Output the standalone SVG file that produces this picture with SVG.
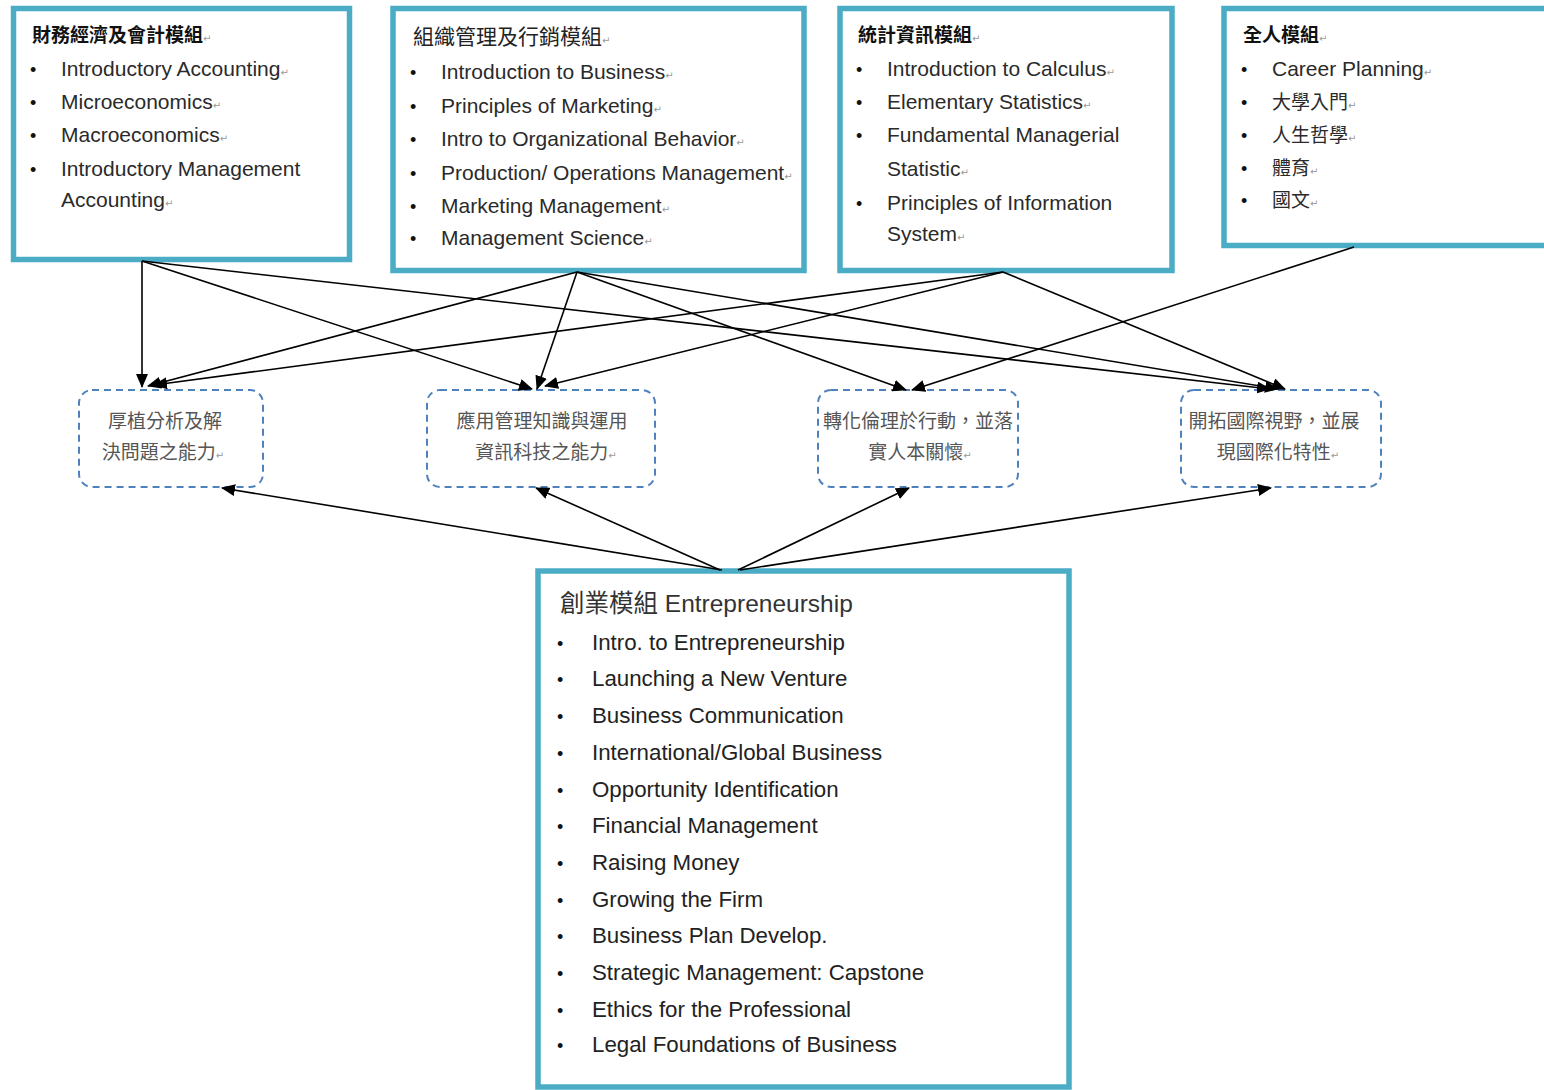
<svg xmlns="http://www.w3.org/2000/svg" width="1544" height="1090" viewBox="0 0 1544 1090">
<style>
.mod{fill:#fff;stroke:#4bacc6;stroke-width:5.5}
.goal{fill:none;stroke:#4f81bd;stroke-width:2;stroke-dasharray:7 5}
.hd{font-family:"Noto Sans CJK TC","Noto Sans CJK SC",sans-serif;font-size:19px;font-weight:bold;fill:#111}
.hd2{font-family:"Noto Sans CJK TC","Noto Sans CJK SC",sans-serif;font-size:21px;fill:#222}
.it{font-family:"Liberation Sans","Noto Sans CJK TC",sans-serif;font-size:21px;fill:#2a2a2a}
.itc{font-family:"Noto Sans CJK TC","Noto Sans CJK SC",sans-serif;font-size:19px;fill:#2a2a2a}
.bul{font-family:"Liberation Sans",sans-serif;font-size:18px;fill:#111}
.gt{font-family:"Noto Sans CJK TC","Noto Sans CJK SC",sans-serif;font-size:19px;fill:#555;text-anchor:middle}
.eh{font-family:"Liberation Sans","Noto Sans CJK TC",sans-serif;font-size:24.5px;fill:#333}
.ei{font-family:"Liberation Sans",sans-serif;font-size:22.3px;fill:#222}
.pm{font-family:"DejaVu Sans",sans-serif;font-size:10px;fill:#999;font-weight:normal}
.cn line{stroke:#000;stroke-width:1.6;marker-end:url(#ah)}
</style>
<defs>
<marker id="ah" markerUnits="userSpaceOnUse" markerWidth="14" markerHeight="12" refX="13" refY="6" orient="auto">
<path d="M0,0 L14,6 L0,12 z" fill="#000"/>
</marker>
</defs>
<rect width="1544" height="1090" fill="#fff"/>

<g id="mod-finance">
<rect class="mod" x="13.5" y="8.5" width="336" height="251"/>
<text class="hd" x="32" y="42">財務經濟及會計模組<tspan class="pm">↵</tspan></text>
<text class="bul" x="30" y="76">•</text><text class="it" x="61" y="76">Introductory Accounting<tspan class="pm">↵</tspan></text>
<text class="bul" x="30" y="109">•</text><text class="it" x="61" y="109">Microeconomics<tspan class="pm">↵</tspan></text>
<text class="bul" x="30" y="142">•</text><text class="it" x="61" y="142">Macroeconomics<tspan class="pm">↵</tspan></text>
<text class="bul" x="30" y="176">•</text><text class="it" x="61" y="176">Introductory Management</text>
<text class="it" x="61" y="207">Accounting<tspan class="pm">↵</tspan></text>
</g>

<g id="mod-management">
<rect class="mod" x="393" y="8.5" width="411" height="262"/>
<text class="hd2" x="413" y="44">組織管理及行銷模組<tspan class="pm">↵</tspan></text>
<text class="bul" x="410" y="79">•</text><text class="it" x="441" y="79">Introduction to Business<tspan class="pm">↵</tspan></text>
<text class="bul" x="410" y="113">•</text><text class="it" x="441" y="113">Principles of Marketing<tspan class="pm">↵</tspan></text>
<text class="bul" x="410" y="146">•</text><text class="it" x="441" y="146">Intro to Organizational Behavior<tspan class="pm">↵</tspan></text>
<text class="bul" x="410" y="180">•</text><text class="it" x="441" y="180">Production/ Operations Management<tspan class="pm">↵</tspan></text>
<text class="bul" x="410" y="213">•</text><text class="it" x="441" y="213">Marketing Management<tspan class="pm">↵</tspan></text>
<text class="bul" x="410" y="245">•</text><text class="it" x="441" y="245">Management Science<tspan class="pm">↵</tspan></text>
</g>

<g id="mod-stats">
<rect class="mod" x="840" y="8.5" width="332" height="262"/>
<text class="hd" x="858" y="42">統計資訊模組<tspan class="pm">↵</tspan></text>
<text class="bul" x="856" y="76">•</text><text class="it" x="887" y="76">Introduction to Calculus<tspan class="pm">↵</tspan></text>
<text class="bul" x="856" y="109">•</text><text class="it" x="887" y="109">Elementary Statistics<tspan class="pm">↵</tspan></text>
<text class="bul" x="856" y="142">•</text><text class="it" x="887" y="142">Fundamental Managerial</text>
<text class="it" x="887" y="176">Statistic<tspan class="pm">↵</tspan></text>
<text class="bul" x="856" y="210">•</text><text class="it" x="887" y="210">Principles of Information</text>
<text class="it" x="887" y="241">System<tspan class="pm">↵</tspan></text>
</g>

<g id="mod-whole">
<rect class="mod" x="1224" y="8.5" width="340" height="237"/>
<text class="hd" x="1243" y="42">全人模組<tspan class="pm">↵</tspan></text>
<text class="bul" x="1241" y="76">•</text><text class="it" x="1272" y="76">Career Planning<tspan class="pm">↵</tspan></text>
<text class="bul" x="1241" y="109">•</text><text class="itc" x="1272" y="109">大學入門<tspan class="pm">↵</tspan></text>
<text class="bul" x="1241" y="142">•</text><text class="itc" x="1272" y="142">人生哲學<tspan class="pm">↵</tspan></text>
<text class="bul" x="1241" y="175">•</text><text class="itc" x="1272" y="175">體育<tspan class="pm">↵</tspan></text>
<text class="bul" x="1241" y="207">•</text><text class="itc" x="1272" y="207">國文<tspan class="pm">↵</tspan></text>
</g>

<g id="goal-analysis">
<rect class="goal" x="79" y="390" width="184" height="97" rx="13"/>
<text class="gt" x="165" y="428">厚植分析及解</text>
<text class="gt" x="163" y="459">決問題之能力<tspan class="pm">↵</tspan></text>
</g>
<g id="goal-it">
<rect class="goal" x="427" y="390" width="228" height="97" rx="13"/>
<text class="gt" x="542" y="428">應用管理知識與運用</text>
<text class="gt" x="546" y="459">資訊科技之能力<tspan class="pm">↵</tspan></text>
</g>
<g id="goal-ethics">
<rect class="goal" x="818" y="390" width="200" height="97" rx="13"/>
<text class="gt" x="918" y="428">轉化倫理於行動，並落</text>
<text class="gt" x="920" y="459">實人本關懷<tspan class="pm">↵</tspan></text>
</g>
<g id="goal-global">
<rect class="goal" x="1181" y="390" width="200" height="97" rx="13"/>
<text class="gt" x="1274" y="428">開拓國際視野，並展</text>
<text class="gt" x="1278" y="459">現國際化特性<tspan class="pm">↵</tspan></text>
</g>

<g id="mod-entrepreneurship">
<rect class="mod" x="538" y="571" width="531" height="516"/>
<text class="eh" x="560" y="612">創業模組 Entrepreneurship</text>
<text class="bul" x="557" y="650">•</text><text class="ei" x="592" y="650">Intro. to Entrepreneurship</text>
<text class="bul" x="557" y="686">•</text><text class="ei" x="592" y="686">Launching a New Venture</text>
<text class="bul" x="557" y="723">•</text><text class="ei" x="592" y="723">Business Communication</text>
<text class="bul" x="557" y="760">•</text><text class="ei" x="592" y="760">International/Global Business</text>
<text class="bul" x="557" y="797">•</text><text class="ei" x="592" y="797">Opportunity Identification</text>
<text class="bul" x="557" y="833">•</text><text class="ei" x="592" y="833">Financial Management</text>
<text class="bul" x="557" y="870">•</text><text class="ei" x="592" y="870">Raising Money</text>
<text class="bul" x="557" y="907">•</text><text class="ei" x="592" y="907">Growing the Firm</text>
<text class="bul" x="557" y="943">•</text><text class="ei" x="592" y="943">Business Plan Develop.</text>
<text class="bul" x="557" y="980">•</text><text class="ei" x="592" y="980">Strategic Management: Capstone</text>
<text class="bul" x="557" y="1017">•</text><text class="ei" x="592" y="1017">Ethics for the Professional</text>
<text class="bul" x="557" y="1052">•</text><text class="ei" x="592" y="1052">Legal Foundations of Business</text>
</g>

<g id="connectors" class="cn">
<line x1="142" y1="261" x2="142" y2="387"/>
<line x1="142" y1="261" x2="532" y2="389"/>
<line x1="142" y1="261" x2="1270" y2="389"/>
<line x1="577" y1="272" x2="148" y2="386"/>
<line x1="577" y1="272" x2="537" y2="389"/>
<line x1="577" y1="272" x2="906" y2="390"/>
<line x1="577" y1="272" x2="1278" y2="389"/>
<line x1="1003" y1="272" x2="154" y2="385"/>
<line x1="1003" y1="272" x2="545" y2="386"/>
<line x1="1003" y1="272" x2="1285" y2="389"/>
<line x1="1354" y1="247" x2="912" y2="390"/>
<line x1="722" y1="570" x2="222" y2="488"/>
<line x1="720" y1="570" x2="536" y2="488"/>
<line x1="738" y1="570" x2="909" y2="488"/>
<line x1="740" y1="570" x2="1271" y2="488"/>
</g>
</svg>
